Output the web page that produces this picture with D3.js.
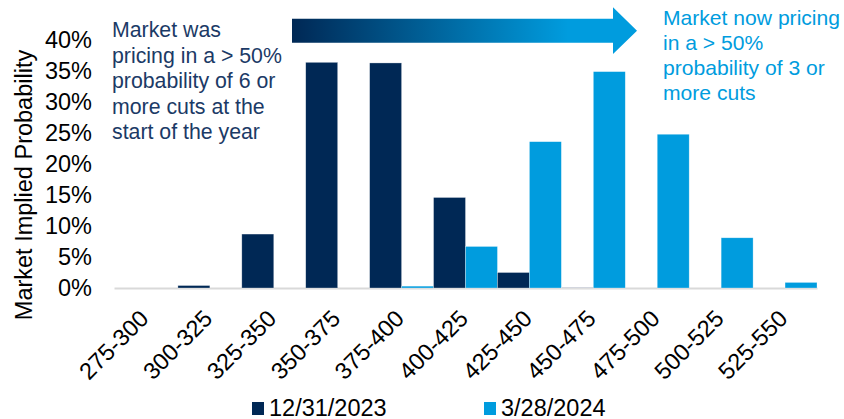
<!DOCTYPE html>
<html>
<head>
<meta charset="utf-8">
<script src="https://cdn.jsdelivr.net/npm/d3@7"></script>
<style>
  body { margin: 0; background: #fff; }
  text { font-family: "Liberation Sans", Arial, sans-serif; }
</style>
</head>
<body>
<div id="chart-card"></div>
<script>
// data (percent)
const categories = ["275-300","300-325","325-350","350-375","375-400","400-425",
                    "425-450","450-475","475-500","500-525","525-550"];
const seriesNames = ["12/31/2023","3/28/2024"];
const dec2023 = [0, 0.4, 8.7, 36.4, 36.3, 14.6, 2.5, 0.1, 0, 0, 0];
const mar2024 = [0, 0, 0, 0, 0.3, 6.7, 23.6, 34.9, 24.8, 8.1, 0.9];
const yTicks = [0, 5, 10, 15, 20, 25, 30, 35, 40];
const leftNote = ["Market was","pricing in a > 50%","probability of 6 or","more cuts at the","start of the year"];
const rightNote = ["Market now pricing","in a > 50%","probability of 3 or","more cuts"];

const dark = "#002855";
const light = "#009cde";
const colors = [dark, light];

const width = 844, height = 419;

// scales
const xScale = d3.scaleBand()
                 .domain(categories)
                 .range([114, 817])
                 .padding(0);

const xSub = d3.scaleBand()
               .domain(seriesNames)
               .range([0, xScale.bandwidth()])
               .padding(0);

const yScale = d3.scaleLinear()
                 .domain([0, 40])
                 .range([288, 40]);

// svg container
const svg = d3.select("#chart-card")
              .append("svg")
              .attr("width", width)
              .attr("height", height);

// rows for bars
const rows = categories.map((c, i) => ({cat: c, vals: [dec2023[i], mar2024[i]]}));

// x axis (baseline + rotated labels)
const xAxis = d3.axisBottom(xScale).tickSize(0).tickSizeOuter(0);
const gx = svg.append("g")
              .attr("id", "x-axis")
              .attr("transform", "translate(0,288)")
              .call(xAxis);
gx.select(".domain").attr("stroke", "#d9d9d9").attr("stroke-width", 2);
gx.selectAll("text")
  .attr("x", 0).attr("y", 0).attr("dy", 0)
  .attr("text-anchor", "end")
  .attr("transform", "translate(4,32) rotate(-45)")
  .attr("fill", "#000")
  .style("font-size", "23.5px");

// bars
svg.append("g")
   .selectAll("g")
   .data(rows)
   .enter()
   .append("g")
   .attr("transform", d => "translate(" + xScale(d.cat) + ",0)")
   .selectAll("rect")
   .data(d => d.vals.map((v, j) => ({name: seriesNames[j], v: v, j: j})))
   .enter()
   .filter(d => d.v > 0)
   .append("rect")
   .attr("x", d => xSub(d.name))
   .attr("y", d => yScale(d.v))
   .attr("width", xSub.bandwidth())
   .attr("height", d => yScale(0) - yScale(d.v))
   .attr("fill", d => d.v < 0.2 ? "#8a94a8" : colors[d.j])
   .attr("stroke", "#ffffff")
   .attr("stroke-opacity", 0.5)
   .attr("stroke-width", 0.6);

// y axis labels only
const yAxis = d3.axisLeft(yScale)
                .tickValues(yTicks)
                .tickSize(0)
                .tickPadding(22)
                .tickFormat(d => d + "%");
const gy = svg.append("g")
              .attr("id", "y-axis")
              .attr("transform", "translate(114,0)")
              .call(yAxis);
gy.select(".domain").remove();
gy.selectAll("text")
  .attr("fill", "#000")
  .style("font-size", "23.5px");

// y axis title
svg.append("text")
   .attr("transform", "translate(32,185) rotate(-90)")
   .attr("text-anchor", "middle")
   .style("font-size", "23.5px")
   .attr("fill", "#000")
   .text("Market Implied Probability");

// gradient arrow
const grad = svg.append("defs")
                .append("linearGradient")
                .attr("id", "arrowGrad")
                .attr("gradientUnits", "userSpaceOnUse")
                .attr("x1", 292).attr("x2", 637)
                .attr("y1", 0).attr("y2", 0);
grad.append("stop").attr("offset", "0%").attr("stop-color", dark);
grad.append("stop").attr("offset", "80%").attr("stop-color", light);
grad.append("stop").attr("offset", "100%").attr("stop-color", light);

svg.append("path")
   .attr("d", "M292,18.7H613V7.3L637,30.7L613,54V42.7H292Z")
   .attr("fill", "url(#arrowGrad)");

// annotations
svg.append("text")
   .style("font-size", "21.3px")
   .attr("fill", "#1b3a66")
   .selectAll("tspan")
   .data(leftNote)
   .enter()
   .append("tspan")
   .attr("x", 112)
   .attr("y", (d, i) => 37 + i * 25.5)
   .text(d => d);

svg.append("text")
   .style("font-size", "21.1px")
   .attr("fill", light)
   .selectAll("tspan")
   .data(rightNote)
   .enter()
   .append("tspan")
   .attr("x", 663)
   .attr("y", (d, i) => 25 + i * 25)
   .text(d => d);

// legend
const legendX = [252, 484];
const legend = svg.append("g")
                  .selectAll("g")
                  .data(seriesNames)
                  .enter()
                  .append("g")
                  .attr("transform", (d, i) => "translate(" + legendX[i] + ",0)");
legend.append("rect")
      .attr("x", 0).attr("y", 402)
      .attr("width", 12).attr("height", 13)
      .attr("fill", (d, i) => colors[i]);
legend.append("text")
      .attr("x", 17).attr("y", 416)
      .style("font-size", "23.5px")
      .attr("fill", "#000")
      .text(d => d);
</script>
</body>
</html>
